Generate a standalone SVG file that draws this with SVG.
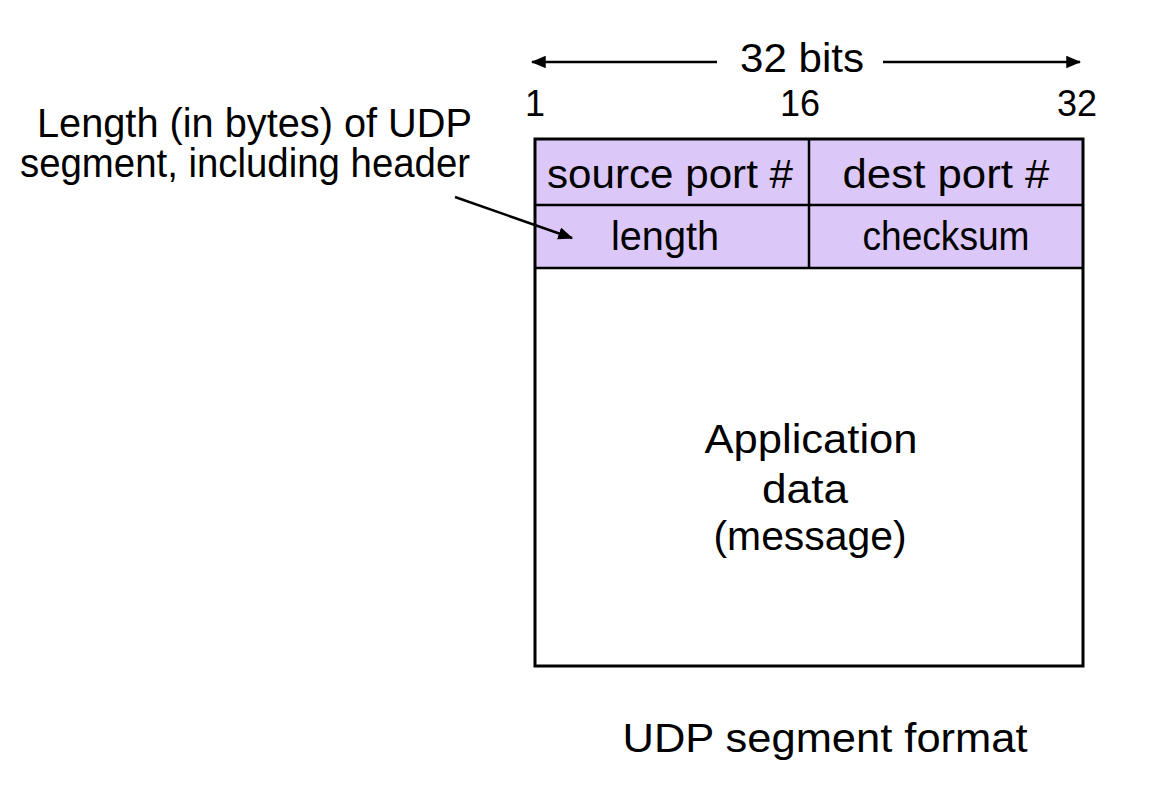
<svg xmlns="http://www.w3.org/2000/svg" width="1152" height="788" viewBox="0 0 1152 788">
<style>
text{font-family:"Liberation Sans",Arial,sans-serif;font-size:40px;fill:#000}
.c{text-anchor:middle}
.e{text-anchor:end}
.box{stroke:#000;stroke-width:3}
.hdr{fill:#DCC8F8}
.ln{stroke:#000;stroke-width:2.5;fill:none}
</style>
<defs>
<marker id="ah" viewBox="0 0 12 10" refX="11" refY="5" markerWidth="6" markerHeight="5" orient="auto-start-reverse" markerUnits="strokeWidth">
<path d="M0,0 L12,5 L0,10 Z" fill="#000"/>
</marker>
</defs>
<rect width="1152" height="788" fill="#fff"/>
<g id="width-label">
<text x="802" y="72" class="c" textLength="124" lengthAdjust="spacingAndGlyphs">32 bits</text>
</g>
<g id="bit-labels">
<text x="535" y="116" class="c" font-size="36" style="font-size:36px">1</text>
<text x="800" y="116" class="c" style="font-size:36px">16</text>
<text x="1077" y="116" class="c" style="font-size:36px">32</text>
</g>
<g id="annotation">
<text x="472" y="137" class="e" textLength="435" lengthAdjust="spacingAndGlyphs">Length (in bytes) of UDP</text>
<text x="470" y="177" class="e" textLength="450" lengthAdjust="spacingAndGlyphs">segment, including header</text>
</g>
<g id="segment">
<rect x="535" y="139" width="548" height="129" class="hdr"/>
<rect x="535" y="268" width="548" height="398" fill="#fff"/>
<line x1="809" y1="139" x2="809" y2="268" class="ln"/>
<line x1="535" y1="205" x2="1083" y2="205" class="ln"/>
<line x1="535" y1="268" x2="1083" y2="268" class="ln"/>
<rect x="535" y="139" width="548" height="527" fill="none" class="box"/>
</g>
<g id="source-port"><text x="670" y="188" class="c" textLength="246" lengthAdjust="spacingAndGlyphs">source port #</text></g>
<g id="dest-port"><text x="946" y="188" class="c" textLength="207" lengthAdjust="spacingAndGlyphs">dest port #</text></g>
<g id="length"><text x="665" y="250" class="c" textLength="108" lengthAdjust="spacingAndGlyphs">length</text></g>
<g id="checksum"><text x="946" y="250" class="c" textLength="167" lengthAdjust="spacingAndGlyphs">checksum</text></g>
<g id="data">
<text x="811" y="453" class="c" textLength="213" lengthAdjust="spacingAndGlyphs">Application</text>
<text x="805" y="503" class="c" textLength="86" lengthAdjust="spacingAndGlyphs">data</text>
<text x="810" y="550" class="c" textLength="193" lengthAdjust="spacingAndGlyphs">(message)</text>
</g>
<g id="caption"><text x="825" y="752" class="c" textLength="405" lengthAdjust="spacingAndGlyphs">UDP segment format</text></g>
<g id="connectors">
<line x1="717" y1="62" x2="532" y2="62" class="ln" marker-end="url(#ah)"/>
<line x1="883" y1="62" x2="1080" y2="62" class="ln" marker-end="url(#ah)"/>
<line x1="455" y1="197" x2="572" y2="238" class="ln" marker-end="url(#ah)"/>
</g>
</svg>
